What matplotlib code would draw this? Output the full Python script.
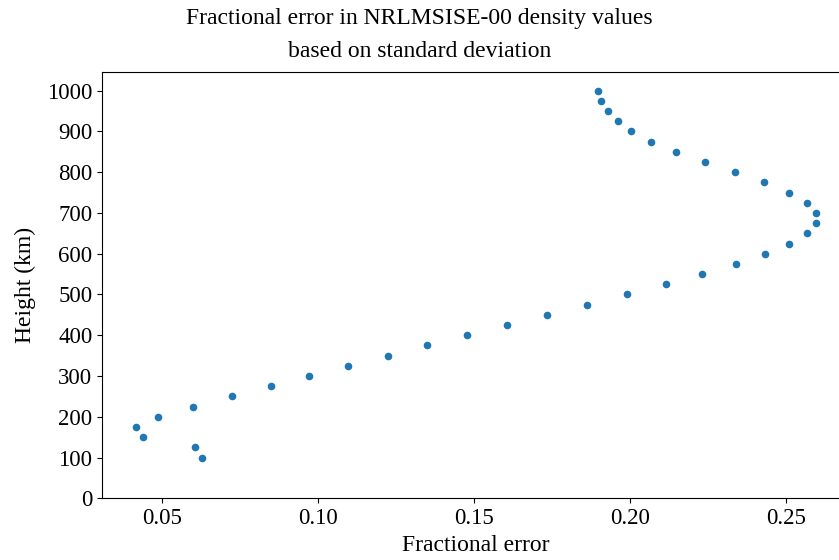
#Scatter of the NRLMSISE-00 density fractional error (std based) against height

import matplotlib.pyplot as plt
from matplotlib.ticker import MultipleLocator

plt.rcParams['font.family'] = ['Liberation Serif', 'DejaVu Serif']

# 1. Data: height levels (km) and fractional error at each level
heights = [100, 125, 150, 175, 200, 225, 250, 275, 300, 325, 350, 375,
           400, 425, 450, 475, 500, 525, 550, 575, 600, 625, 650, 675,
           700, 725, 750, 775, 800, 825, 850, 875, 900, 925, 950, 975, 1000]

frac_error = [0.0628, 0.0606, 0.0440, 0.0418, 0.0488, 0.0599, 0.0724, 0.0851,
              0.0973, 0.1098, 0.1224, 0.1350, 0.1478, 0.1606, 0.1735, 0.1864,
              0.1990, 0.2115, 0.2231, 0.2341, 0.2435, 0.2512, 0.2567, 0.2597,
              0.2597, 0.2567, 0.2512, 0.2430, 0.2338, 0.2241, 0.2149, 0.2067,
              0.2005, 0.1962, 0.1931, 0.1908, 0.1897]


# 2. Figure and axes (axes runs a little past the right edge of the figure)
fig = plt.figure(figsize=(8.39, 5.6), dpi=100)
ax = fig.add_axes([0.1216, 0.1102, 0.8915, 0.7607])

ax.scatter(frac_error, heights, s=20, color="tab:blue")
ax.set_ylim(bottom=0)
ax.yaxis.set_major_locator(MultipleLocator(100))

fig.suptitle("Fractional error in NRLMSISE-00 density values\nbased on standard deviation",
             x=0.5, y=0.985, fontsize=17, linespacing=1.75)
ax.set_xlabel("Fractional error", fontsize=17, labelpad=4)
ax.set_ylabel("Height (km)", fontsize=17, labelpad=8)
ax.tick_params(labelsize=16.5)

plt.savefig("out.png", dpi=100)
